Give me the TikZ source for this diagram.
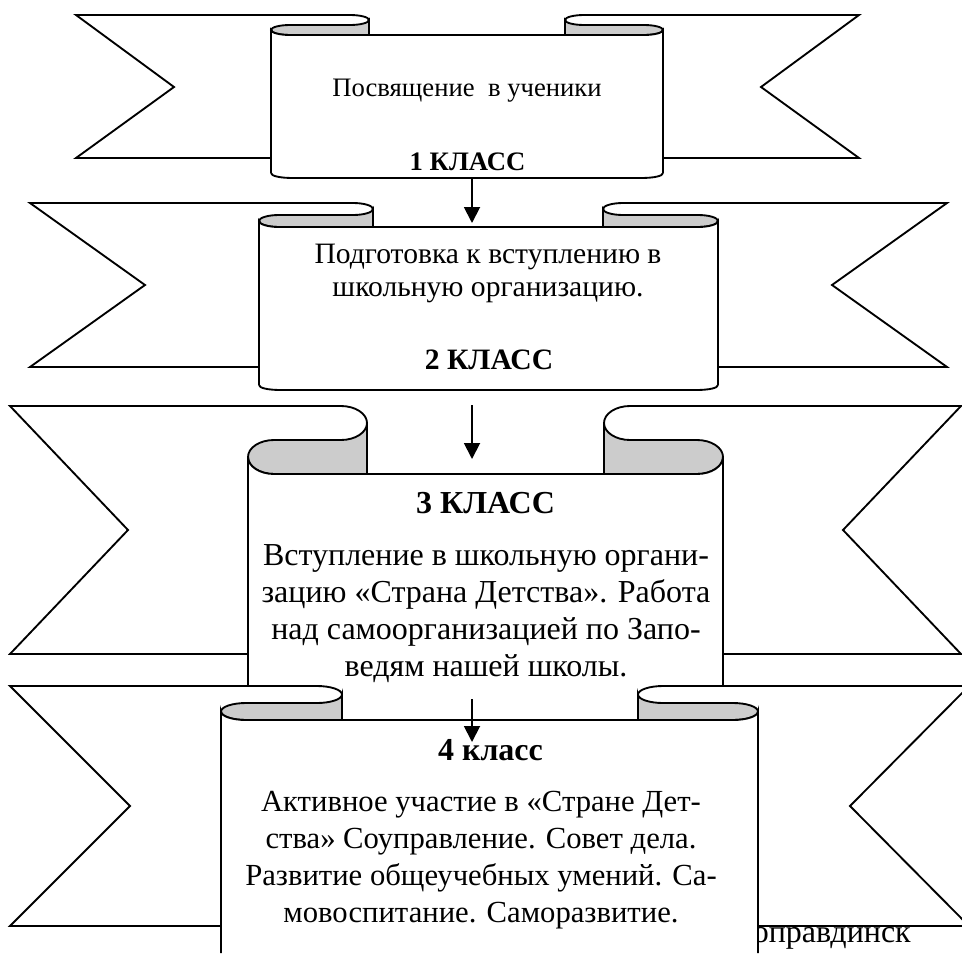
\documentclass[tikz,border=0pt]{standalone}
\usepackage{fontspec}
\setmainfont{Liberation Serif}
\usetikzlibrary{arrows.meta}
\definecolor{foldgrey}{gray}{0.8}
\tikzset{
  edge/.style={draw=black,line width=1.4pt,line join=miter},
  foldpart/.style={fill=foldgrey},
  bodybox/.style={inner sep=0pt,outer sep=0pt},
  link/.style={black,line width=1.4pt,-{Triangle[length=12pt,width=12pt]}},
  labelbox/.style={inner sep=0pt,align=center,text=black},
}
\begin{document}
\begin{tikzpicture}[x=0.75pt,y=-0.75pt]
\path[use as bounding box] (0,0) rectangle (962,953);
\clip (0,0) rectangle (962,953);
\node[labelbox,anchor=base east,font=\fontsize{24pt}{28pt}\selectfont] (town) at (911,942) {оправдинск};
\foreach \tL/\nL/\bL/\iL/\iR/\bR/\nR/\tR/\t/\r/\rx/\m/\tb/\bot in {
  76/174/271/369/565/663/761/859/15/5/19/87/158/173,
  30/145/259/373/603/718/832/947/203/6/20/285/367/385,
  10/128/248/367/604/723/843/961/406/17/26/530/654/685,
  10/130/221/342/638/758/850/969/686/8.5/25/806/926/953}{
  % left tail
  \path[edge,fill=white] (\iL,\tb) -- (\tL,\tb) -- (\nL,\m) -- (\tL,\t) -- ({\iL-\rx},\t)
     .. controls ({\iL-\rx*.45},\t) and (\iL,{\t+\r*.45}) .. (\iL,{\t+\r}) -- (\iL,{\t+4*\r}) -- cycle;
  % right tail
  \path[edge,fill=white] (\iR,\tb) -- (\tR,\tb) -- (\nR,\m) -- (\tR,\t) -- ({\iR+\rx},\t)
     .. controls ({\iR+\rx*.45},\t) and (\iR,{\t+\r*.45}) .. (\iR,{\t+\r}) -- (\iR,{\t+4*\r}) -- cycle;
  % grey folds
  \path[edge,foldpart] (\iL,{\t+\r}) .. controls (\iL,{\t+\r*1.55}) and ({\iL-\rx*.45},{\t+2*\r}) .. ({\iL-\rx},{\t+2*\r})
     -- ({\bL+\rx},{\t+2*\r}) .. controls ({\bL+\rx*.45},{\t+2*\r}) and (\bL,{\t+\r*2.45}) .. (\bL,{\t+3*\r})
     .. controls (\bL,{\t+\r*3.55}) and ({\bL+\rx*.45},{\t+4*\r}) .. ({\bL+\rx},{\t+4*\r}) -- (\iL,{\t+4*\r}) -- cycle;
  \path[edge,foldpart] (\iR,{\t+\r}) .. controls (\iR,{\t+\r*1.55}) and ({\iR+\rx*.45},{\t+2*\r}) .. ({\iR+\rx},{\t+2*\r})
     -- ({\bR-\rx},{\t+2*\r}) .. controls ({\bR-\rx*.45},{\t+2*\r}) and (\bR,{\t+\r*2.45}) .. (\bR,{\t+3*\r})
     .. controls (\bR,{\t+\r*3.55}) and ({\bR-\rx*.45},{\t+4*\r}) .. ({\bR-\rx},{\t+4*\r}) -- (\iR,{\t+4*\r}) -- cycle;
  % body
  \fill[white] (\bL,{\t+3*\r}) .. controls (\bL,{\t+\r*3.55}) and ({\bL+\rx*.45},{\t+4*\r}) .. ({\bL+\rx},{\t+4*\r})
     -- ({\bR-\rx},{\t+4*\r}) .. controls ({\bR-\rx*.45},{\t+4*\r}) and (\bR,{\t+\r*3.55}) .. (\bR,{\t+3*\r})
     -- (\bR,\bot) -- (\bL,\bot) -- cycle;
  \draw[edge] (\bL,\bot) -- (\bL,{\t+3*\r}) .. controls (\bL,{\t+\r*3.55}) and ({\bL+\rx*.45},{\t+4*\r}) .. ({\bL+\rx},{\t+4*\r})
     -- ({\bR-\rx},{\t+4*\r}) .. controls ({\bR-\rx*.45},{\t+4*\r}) and (\bR,{\t+\r*3.55}) .. (\bR,{\t+3*\r}) -- (\bR,\bot);
}
% rounded bottoms of the first two scrolls
\draw[edge] (271,173) .. controls (271,176) and (280,178) .. (293,178) -- (641,178) .. controls (654,178) and (663,176) .. (663,173);
\draw[edge] (259,385) .. controls (259,388) and (268,390) .. (281,390) -- (696,390) .. controls (709,390) and (718,388) .. (718,385);
% body placeholders
\node[bodybox,minimum width=294pt,minimum height=107.25pt] (b1) at (467,106.5) {};
\node[bodybox,minimum width=344.25pt,minimum height=122.25pt] (b2) at (488.5,308.5) {};
\node[bodybox,minimum width=356.25pt,minimum height=158.25pt] (b3) at (485.5,579.5) {};
\node[bodybox,minimum width=402.75pt,minimum height=174.75pt] (b4) at (489.5,836.5) {};
% texts
\node[labelbox,anchor=base,font=\fontsize{20pt}{24pt}\selectfont] (t1) at (467,96) {Посвящение\ \ в ученики};
\node[labelbox,anchor=base,font=\bfseries\fontsize{20pt}{24pt}\selectfont] (c1) at (467.5,170) {1 КЛАСС};
\node[labelbox,font=\fontsize{22.2pt}{25pt}\selectfont] (t2) at (488,273.5) {Подготовка к вступлению в\\школьную организацию.};
\node[labelbox,anchor=base,font=\bfseries\fontsize{22.2pt}{25pt}\selectfont] (c2) at (489,369) {2 КЛАСС};
\node[labelbox,anchor=base,font=\bfseries\fontsize{24pt}{28pt}\selectfont] (c3) at (485.5,513) {3 КЛАСС};
\node[labelbox,font=\fontsize{24pt}{27.75pt}\selectfont] (t3) at (486,613.5) {Вступление в школьную органи-\\зацию «Страна Детства». Работа\\над самоорганизацией по Запо-\\ведям нашей школы.};
\node[labelbox,anchor=base,font=\bfseries\fontsize{24pt}{28pt}\selectfont] (c4) at (490.5,760) {4 класс};
\node[labelbox,font=\fontsize{23pt}{27.75pt}\selectfont] (t4) at (481,860) {Активное участие в «Стране Дет-\\ства» Соуправление. Совет дела.\\Развитие общеучебных умений. Са-\\мовоспитание. Саморазвитие.};
% connectors
\draw[link] ([xshift=3.75pt]b1.south) -- ([xshift=-12.375pt,yshift=3pt]b2.north);
\draw[link] ([xshift=-12.375pt,yshift=-11.25pt]b2.south) -- ([xshift=-10.125pt,yshift=11.25pt]b3.north);
\draw[link] ([xshift=-10.125pt,yshift=-10.5pt]b3.south) -- ([xshift=-13.125pt,yshift=-16.5pt]b4.north);
\end{tikzpicture}
\end{document}
